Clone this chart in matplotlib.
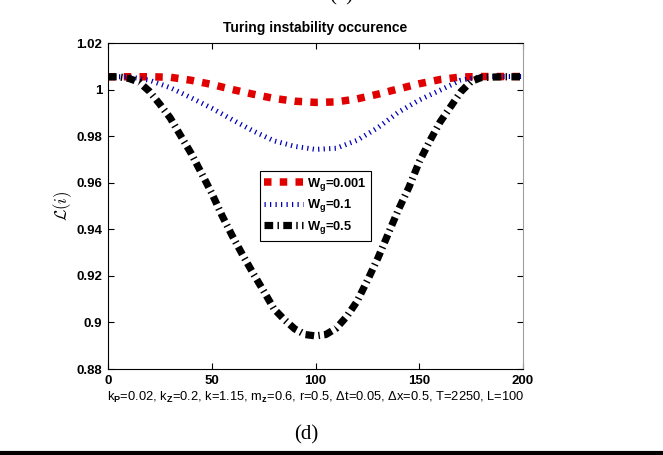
import matplotlib
matplotlib.use('Agg')
import matplotlib.pyplot as plt
from matplotlib.lines import Line2D

# values
x_red = [0, 10, 20, 30, 40, 50, 60, 70, 80, 90, 100, 110, 120, 130, 140, 150, 160, 170, 180, 190, 200]
y_red = [1.0055, 1.0055, 1.0055, 1.0053, 1.0040, 1.0022, 1.0000, 0.9980, 0.9962, 0.9950, 0.9945,
         0.9947, 0.9960, 0.9980, 1.0003, 1.0025, 1.0043, 1.0054, 1.0056, 1.0056, 1.0056]

x_blue = [0, 10, 20, 30, 40, 50, 60, 70, 80, 90, 100, 110, 120, 130, 140, 150, 160, 170, 180, 190, 200]
y_blue = [1.0055, 1.0055, 1.0040, 1.0008, 0.9965, 0.9920, 0.9870, 0.9822, 0.9780, 0.9756, 0.9743,
          0.9748, 0.9782, 0.9836, 0.9903, 0.9955, 0.9997, 1.0040, 1.0056, 1.0056, 1.0056]

x_black = [0, 5, 10, 15, 20, 25, 30, 35, 40, 45, 50, 55, 60, 65, 70, 75, 80, 85, 90, 95, 100,
           105, 110, 115, 120, 125, 130, 135, 140, 145, 150, 155, 160, 165, 170, 175, 180, 190, 200]
y_black = [1.0055, 1.0055, 1.0048, 1.0032, 0.9992, 0.9937, 0.9878, 0.9802, 0.9727, 0.9642, 0.9555,
           0.9458, 0.9370, 0.9288, 0.9210, 0.9135, 0.9058, 0.9012, 0.8972, 0.8948, 0.8942,
           0.8948, 0.8975, 0.9025, 0.9090, 0.9180, 0.9275, 0.9380, 0.9485, 0.9580, 0.9690,
           0.9778, 0.9860, 0.9925, 0.9990, 1.0035, 1.0052, 1.0055, 1.0055]

labels = ['W$_{\\mathrm{g}}$=0.001', 'W$_{\\mathrm{g}}$=0.1', 'W$_{\\mathrm{g}}$=0.5']
x_ticks = [0, 50, 100, 150, 200]
y_ticks = [0.88, 0.9, 0.92, 0.94, 0.96, 0.98, 1, 1.02]
y_tick_labels = ['0.88', '0.9', '0.92', '0.94', '0.96', '0.98', '1', '1.02']

title = 'Turing instability occurence'
xlabel = ('k$_{\\mathrm{P}}$=0.02, k$_{\\mathrm{Z}}$=0.2, k=1.15, m$_{\\mathrm{z}}$=0.6, r=0.5, '
          '\u0394t=0.05, \u0394x=0.5, T=2250, L=100')

plt.rcParams['font.family'] = ['Liberation Sans', 'DejaVu Sans']
plt.rcParams['font.weight'] = 'bold'
plt.rcParams['mathtext.fontset'] = 'custom'
plt.rcParams['mathtext.rm'] = 'Liberation Sans:bold'
plt.rcParams['mathtext.it'] = 'Liberation Sans:italic:bold'
plt.rcParams['mathtext.bf'] = 'Liberation Sans:bold'

fig = plt.figure(figsize=(6.63, 4.55), dpi=100)
ax = fig.add_axes([108 / 663, 1 - 369 / 455, 415 / 663, 326 / 455])

ax.plot(x_red, y_red, color='#e00000', lw=5.4, dashes=(1, 1.1), label=labels[0])
ax.plot(x_blue, y_blue, color='#0000b8', lw=3.6, dashes=(0.25, 0.85), label=labels[1])
ax.plot(x_black, y_black, color='black', lw=5.2, dashes=(1.2, 0.6, 0.2, 0.6), label=labels[2])

ax.set_xlim(0, 200)
ax.set_ylim(0.88, 1.02)
ax.set_xticks(x_ticks)
ax.set_yticks(y_ticks)
ax.set_yticklabels(y_tick_labels)
ax.tick_params(direction='in', top=True, right=True, length=4, width=0.8,
               labelsize=9.5, pad=4)
ax.spines['right'].set_color('#a0a0a0')

ax.set_title(title, fontsize=10, fontweight='bold', y=1 + 15 / 326, pad=0, va='center')
ax.set_xlabel(xlabel, fontsize=9.3, va='center')
ax.xaxis.set_label_coords(0.5, -28 / 326)
ax.set_ylabel('$\\mathcal{L}(i)$', fontsize=12, math_fontfamily='cm', va='center')
ax.yaxis.set_label_coords(-45 / 415, 0.5)

leg = ax.legend(loc='center', fontsize=9.3, handlelength=3.0, handletextpad=0.3,
                labelspacing=0.35, borderpad=0.35, fancybox=False, framealpha=1)
leg.get_frame().set_edgecolor('black')
leg.get_frame().set_linewidth(0.8)

fig.text(341 / 663, 1 - 5 / 455, '(b)', family='Liberation Serif', weight='normal',
         fontsize=15, ha='center', va='bottom')
fig.text(306 / 663, 1 - 435 / 455, '(d)', family='Liberation Serif', weight='normal',
         fontsize=15, ha='center', va='center')
fig.add_artist(Line2D([0, 1], [1 - 452.5 / 455] * 2, transform=fig.transFigure,
                      color='black', lw=3))

fig.savefig('out.png', dpi=100)
